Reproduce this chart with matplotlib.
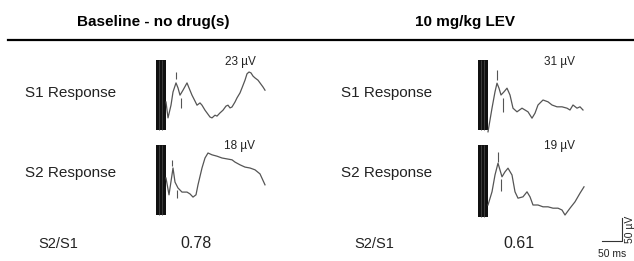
import numpy as np
import matplotlib.pyplot as plt

plt.rcParams['font.family'] = ['Liberation Sans', 'DejaVu Sans']

# Conditions and measured peak amplitudes (uV)
conditions = ["Baseline - no drug(s)", "10 mg/kg LEV"]
row_labels = ["S1 Response", "S2 Response"]
amp_s1 = [23, 31]
amp_s2 = [18, 19]

# Evoked traces: time (ms after artifact), amplitude (uV)
base_s1_t = [0, 5, 12.5, 17.5, 25, 30, 35, 42.5, 52.5, 57.5, 65, 72.5, 77.5, 85, 90, 97.5, 102.5,
             110, 115, 122.5, 127.5, 135, 142.5, 150, 155, 160, 165, 172.5, 177.5, 185, 190,
             197.5, 202.5, 207.5, 212.5, 217.5, 222.5, 230, 235, 242.5, 247.5]
base_s1_uv = [0, -35, -7, 22, 42, 31, 15, 26, 42, 31, 15, 2, -7, -2, -7, -18, -24,
              -33, -35, -29, -31, -24, -18, -9, -7, -13, -11, 0, 9, 20, 31,
              48, 62, 66, 64, 57, 53, 48, 42, 33, 26]

base_s2_t = [0, 7.5, 15, 17.5, 22.5, 30, 40, 52.5, 60, 67.5, 75, 80, 90, 97.5, 105, 115, 127.5,
             140, 152.5, 165, 172.5, 185, 197.5, 210, 222.5, 235, 247.5]
base_s2_uv = [0, -37, 7, 22, -9, -22, -31, -31, -35, -42, -37, -15, 22, 44, 55, 51, 48,
              44, 42, 40, 35, 29, 24, 22, 18, 9, -15]

lev_s1_t = [0, 10, 17.5, 22.5, 27.5, 32.5, 40, 47.5, 55, 62.5, 72.5, 85, 92.5, 100, 110, 117.5,
            125, 137.5, 150, 160, 172.5, 185, 197.5, 205, 212.5, 222.5, 230, 237.5]
lev_s1_uv = [-59, -7, 29, 48, 37, 22, 29, 37, 22, -7, -15, -7, -11, -15, -29, -18,
             0, 11, 7, 0, -4, -4, -7, -11, 0, -7, -4, -11]

lev_s2_t = [0, 10, 17.5, 25, 30, 35, 42.5, 50, 60, 67.5, 75, 87.5, 97.5, 105, 112.5, 125,
            137.5, 150, 162.5, 175, 185, 192.5, 205, 217.5, 230, 240]
lev_s2_uv = [-33, -4, 33, 59, 44, 29, 40, 48, 33, -4, -18, -15, -4, -15, -33, -33,
             -37, -37, -40, -40, -44, -55, -40, -26, -7, 7]

# peak / trough markers: (time, low, high)
base_s1_marks = [(25, 51, 66), (37.5, -13, 9)]
base_s2_marks = [(16, 26, 40), (27.5, -44, -26)]
lev_s1_marks = [(22.5, 55, 77), (37.5, -15, 15)]
lev_s2_marks = [(25, 62, 84), (32.5, -2, 24)]

# stimulus artifact extent (uV)
base_s1_art = (-62, 92)
base_s2_art = (-81, 73)
lev_s1_art = (-55, 99)
lev_s2_art = (-59, 99)

W, H = 634, 261
MS_PER_PX = 2.5
UV_PER_PX = 2.2

fig = plt.figure(figsize=(W / 100, H / 100), dpi=100)
bg = fig.add_axes([0, 0, 1, 1])
bg.set_xlim(0, W)
bg.set_ylim(H, 0)
bg.axis('off')


def trace_axes(x0, y0):
    # axes whose origin (t=0, 0 uV) sits at pixel (x0, y0)
    xlim = (-30, 270)
    ylim = (-120, 120)
    left = x0 + xlim[0] / MS_PER_PX
    top = y0 - ylim[1] / UV_PER_PX
    w = (xlim[1] - xlim[0]) / MS_PER_PX
    h = (ylim[1] - ylim[0]) / UV_PER_PX
    ax = fig.add_axes([left / W, 1 - (top + h) / H, w / W, h / H])
    ax.set_xlim(*xlim)
    ax.set_ylim(*ylim)
    ax.axis('off')
    ax.patch.set_alpha(0)
    return ax


def draw_trace(ax, t, uv, marks, art):
    ax.fill_between([-25, 0], art[0], art[1], color='#111111', lw=0)
    ax.vlines([-18, -9], art[0], art[1], color='#444444', lw=0.6)
    ax.plot(t, uv, color='#555555', lw=0.9)
    for tm, lo, hi in marks:
        ax.vlines(tm, lo, hi, color='#555555', lw=0.8)


ax = trace_axes(166, 102)
draw_trace(ax, base_s1_t, base_s1_uv, base_s1_marks, base_s1_art)
ax = trace_axes(166, 178)
draw_trace(ax, base_s2_t, base_s2_uv, base_s2_marks, base_s2_art)
ax = trace_axes(488, 105)
draw_trace(ax, lev_s1_t, lev_s1_uv, lev_s1_marks, lev_s1_art)
ax = trace_axes(488, 190)
draw_trace(ax, lev_s2_t, lev_s2_uv, lev_s2_marks, lev_s2_art)

# scale bar: 50 ms x 50 uV
ax.plot([285, 335, 335], [-112, -112, -62], color='#333333', lw=0.8, clip_on=False)
ax.text(356, -87, "50 \u00b5V", rotation=90, fontsize=7.5, ha='center', va='center', color='#222222')
ax.text(310, -130, "50 ms", fontsize=7.5, ha='center', va='top', color='#222222')

# amplitude labels
for cx, i in ((240, 0), (560, 1)):
    bg.text(cx, 62, f"{amp_s1[i]} \u00b5V", fontsize=8.5, ha='center', va='center', color='#222222')
    bg.text(cx, 146, f"{amp_s2[i]} \u00b5V", fontsize=8.5, ha='center', va='center', color='#222222')

# headers and row labels
bg.text(153, 22, conditions[0], fontsize=11, fontweight='bold', ha='center', va='center')
bg.text(465, 22, conditions[1], fontsize=11, fontweight='bold', ha='center', va='center')
bg.plot([8, W], [40, 40], color='black', lw=1.6)

for cx in (71, 387):
    bg.text(cx, 93, row_labels[0], fontsize=11, ha='center', va='center', color='#222222')
    bg.text(cx, 173, row_labels[1], fontsize=11, ha='center', va='center', color='#222222')
    bg.text(cx - 13, 244, "S2/S1", fontsize=10.5, ha='center', va='center', color='#222222')

ratios = [s2 / s1 for s1, s2 in zip(amp_s1, amp_s2)]
bg.text(196, 244, f"{ratios[0]:.2f}", fontsize=11.5, ha='center', va='center', color='#222222')
bg.text(519, 244, f"{ratios[1]:.2f}", fontsize=11.5, ha='center', va='center', color='#222222')

fig.savefig("out.png", dpi=100)
